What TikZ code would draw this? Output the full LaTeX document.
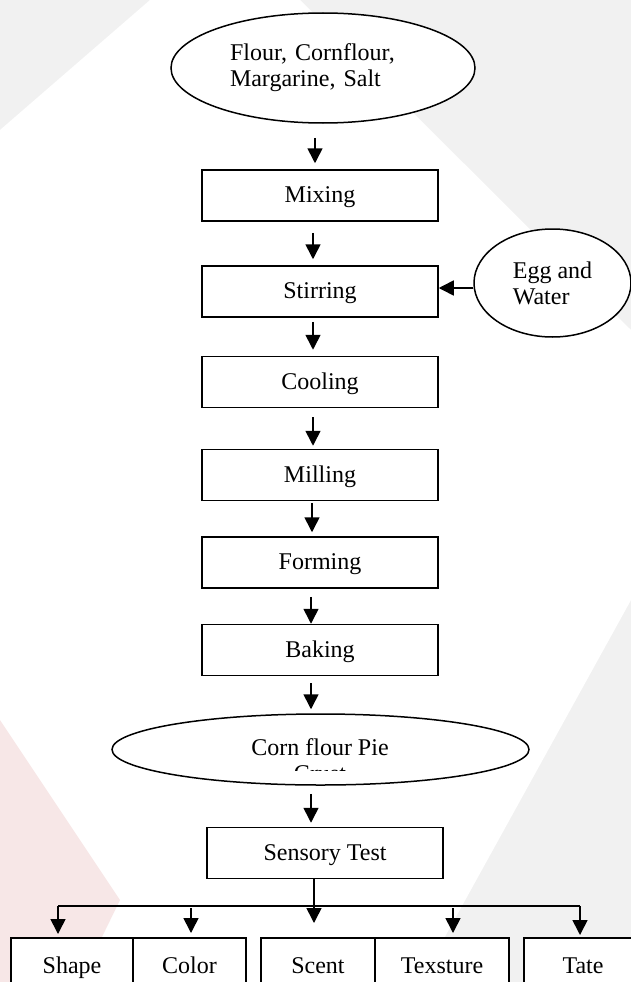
\documentclass[tikz,border=0pt]{standalone}
\usepackage{fontspec}
\setmainfont{Liberation Serif}
\usetikzlibrary{arrows.meta,shapes.geometric}

\definecolor{bggray}{RGB}{241,241,241}
\definecolor{bgpink}{RGB}{247,231,231}

\tikzset{
	txt/.style={font=\fontsize{24}{26}\selectfont},
	stepbox/.style={txt,draw,fill=white,line width=1.5pt,minimum width=236pt,minimum height=51pt,inner sep=0pt,text height=17pt,text depth=3pt},
	testbox/.style={txt,draw,fill=white,line width=1.5pt,minimum height=56pt,inner sep=0pt,text height=17pt,text depth=3pt},
	blob/.style={txt,ellipse,draw,fill=white,line width=1.5pt,inner sep=0pt},
	flow/.style={line width=1.6pt,-{Triangle[length=15pt,width=15pt]}},
}

\begin{document}
\begin{tikzpicture}[x=1pt,y=-1pt]

		\useasboundingbox (0,0) rectangle (631,982);
		\clip (0,0) rectangle (631,982);

		% backdrop
		\fill [bggray] (0,0) rectangle (631,982);
		\fill [white] (0,130)--(150,0)--(300,0)--(631,330)--(631,600)--(420,982)--(130,982)--(0,860)--cycle;
		\fill [bgpink] (0,720)--(120,900)--(80,982)--(0,982)--cycle;

		% ingredients
		\node [blob,minimum width=304pt,minimum height=110pt,text width=186pt,align=left] (dry) at (323,68)
			{Flour, Cornflour,\\Margarine, Salt};
		\node [blob,minimum width=157pt,minimum height=108pt,align=left] (egg) at (552.5,283)
			{Egg and\\Water};

		% process steps
		\node [stepbox] (mix)  at (320,195.5) {Mixing};
		\node [stepbox] (stir) at (320,291.5) {Stirring};
		\node [stepbox] (cool) at (320,382)   {Cooling};
		\node [stepbox] (mill) at (320,475)   {Milling};
		\node [stepbox] (form) at (320,562.5) {Forming};
		\node [stepbox] (bake) at (320,650)   {Baking};

		% product
		\node [blob,minimum width=417pt,minimum height=71pt] (pie) at (320.5,749.5) {};
		\node [txt,anchor=base] (pie1) at (320,755) {Corn flour Pie};
		\begin{scope}
			\clip (112,714) rectangle (529,770);
			\node [txt,anchor=base] (pie2) at (320,781) {Crust};
		\end{scope}

		\node [stepbox] (sens) at (325,853) {Sensory Test};

		% test items
		\node [testbox,minimum width=122pt] (shape) at (72,966)    {Shape};
		\node [testbox,minimum width=113pt] (color) at (189.5,966) {Color};
		\node [testbox,minimum width=114pt] (scent) at (318,966)   {Scent};
		\node [testbox,minimum width=134pt] (tex)   at (442,966)   {Texsture};
		\node [testbox,minimum width=118pt] (tate)  at (583,966)   {Tate};

		% arrows down the line
		\draw [flow,shorten <=14pt,shorten >=6pt] ([xshift=-8pt]dry.south)  -- ([xshift=-5pt]mix.north);
		\draw [flow,shorten <=11pt,shorten >=6pt] ([xshift=-7pt]mix.south)  -- ([xshift=-7pt]stir.north);
		\draw [flow,shorten <=4pt, shorten >=6pt] ([xshift=-7pt]stir.south) -- ([xshift=-7pt]cool.north);
		\draw [flow,shorten <=9pt, shorten >=3pt] ([xshift=-7pt]cool.south) -- ([xshift=-7pt]mill.north);
		\draw [flow,shorten <=2pt, shorten >=4pt] ([xshift=-8pt]mill.south) -- ([xshift=-8pt]form.north);
		\draw [flow,shorten <=8pt, shorten >=0pt] ([xshift=-9pt]form.south) -- ([xshift=-9pt]bake.north);
		\draw [flow,shorten <=7pt, shorten >=4pt] ([xshift=-9pt]bake.south) -- ([xshift=-9.5pt]pie.north);
		\draw [flow,shorten <=8pt, shorten >=4pt] ([xshift=-9.5pt]pie.south) -- ([xshift=-14pt]sens.north);

		\draw [flow] ([yshift=-5pt]egg.west) -- ([yshift=-5pt]egg.west -| stir.east);

		% branching to the tests
		\coordinate (bus) at (0,906);
		\coordinate (shapein) at (58,934);
		\coordinate (colorin) at (191,933);
		\coordinate (scentin) at (314,923);
		\coordinate (texin)   at (453,933);
		\coordinate (tatein)  at (580,935);

		\draw [line width=1.6pt] (shapein |- bus) -- (tatein |- bus);
		\draw [flow] (sens.south -| scentin) -- (scentin);
		\draw [flow] (shapein |- bus) -- (shapein);
		\draw [flow] ([yshift=-2pt]colorin |- bus) -- (colorin);
		\draw [flow] ([yshift=-2pt]texin |- bus) -- (texin);
		\draw [flow] (tatein |- bus) -- (tatein);

	\end{tikzpicture}
\end{document}
